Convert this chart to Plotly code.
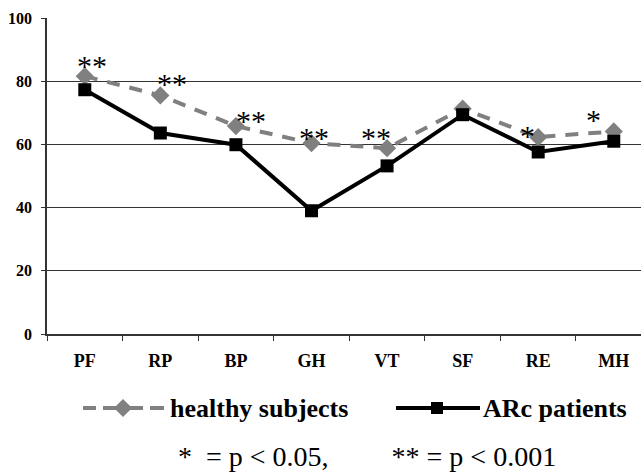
import plotly.graph_objects as go

# ---- data ----
categories = ["PF", "RP", "BP", "GH", "VT", "SF", "RE", "MH"]
healthy = [81.6, 75.5, 65.8, 60.4, 58.8, 71.3, 62.3, 64.1]
arc = [77.3, 63.6, 59.9, 39.0, 53.2, 69.4, 57.6, 61.0]
signif = ["**", "**", "**", "**", "**", "", "*", "*"]
y_ticks = [0, 20, 40, 60, 80, 100]

# ---- figure geometry (pixels) ----
W, H = 641, 472
PL, PR, PT, PB = 47, 641, 18, 334
def px(x):
    return x / W
def py(y):
    return 1 - y / H

GREY = "#808080"
FONT = "Liberation Serif, Times New Roman, serif"

fig = go.Figure()
fig.add_trace(go.Scatter(
    x=categories, y=healthy, mode="lines+markers", name="healthy subjects",
    line=dict(color=GREY, width=4, dash="13px,10px"),
    marker=dict(symbol="diamond", size=14, color=GREY),
    showlegend=False,
))
fig.add_trace(go.Scatter(
    x=categories, y=arc, mode="lines+markers", name="ARc patients",
    line=dict(color="black", width=4),
    marker=dict(symbol="square", size=13, color="black"),
    showlegend=False,
))

# significance stars near the healthy points
star_shift = [(7, 11), (12, 12), (15, 6), (2, 6), (-11, 11), (0, 0), (-11, 2), (-20, 12)]
annotations = []
for c, v, s, (dx, dy) in zip(categories, healthy, signif, star_shift):
    if s:
        annotations.append(dict(
            x=c, y=v, xref="x", yref="y", text=s, showarrow=False,
            xshift=dx, yshift=dy, font=dict(family=FONT, size=30, color="black"),
        ))

# legend (drawn manually to match long line samples)
LY = 408
def hline(x0, x1, color):
    return dict(type="line", xref="paper", yref="paper", x0=px(x0), x1=px(x1), y0=py(LY), y1=py(LY),
                line=dict(color=color, width=4))
shapes = [
    hline(83, 96, GREY), hline(103, 143, GREY), hline(150, 164, GREY),
    dict(type="path", xref="paper", yref="paper",
         path=f"M {px(114)} {py(LY)} L {px(123)} {py(LY-9)} L {px(132)} {py(LY)} L {px(123)} {py(LY+9)} Z",
         fillcolor=GREY, line=dict(width=0)),
    hline(396, 480, "black"),
    dict(type="rect", xref="paper", yref="paper", x0=px(431), x1=px(443), y0=py(LY-6), y1=py(LY+6),
         fillcolor="black", line=dict(width=0)),
]
annotations.append(dict(x=px(168), y=py(LY), xref="paper", yref="paper", xanchor="left", yanchor="middle",
                        text="<b>healthy subjects</b>", showarrow=False,
                        font=dict(family=FONT, size=26, color="black")))
annotations.append(dict(x=px(481), y=py(LY), xref="paper", yref="paper", xanchor="left", yanchor="middle",
                        text="<b>ARc patients</b>", showarrow=False,
                        font=dict(family=FONT, size=26, color="black")))
NB = "\u00a0"
annotations.append(dict(x=px(367), y=py(456), xref="paper", yref="paper", xanchor="center", yanchor="middle",
                        text="*" + NB * 2 + "= p < 0.05," + NB * 9 + "** = p < 0.001", showarrow=False,
                        font=dict(family=FONT, size=28, color="black")))

step = 75.57
right_range = -0.5 + (PR - PL) / step

fig.update_layout(
    width=W, height=H,
    margin=dict(l=0, r=0, t=0, b=0, pad=0),
    paper_bgcolor="white", plot_bgcolor="white",
    showlegend=False,
    xaxis=dict(
        domain=[px(PL), px(PR)], range=[-0.5, right_range], type="category",
        showline=True, linecolor="#333", linewidth=2, automargin=False,
        ticks="outside", ticklen=5, tickcolor="#333", tickwidth=1, tickson="boundaries",
        showgrid=False, ticklabelstandoff=9,
        tickfont=dict(family=FONT, size=18, color="black", weight="bold"),
    ),
    yaxis=dict(
        domain=[py(PB), py(PT)], range=[0, 100], tickvals=y_ticks,
        showline=True, linecolor="#333", linewidth=1.5, automargin=False,
        ticks="outside", ticklen=4, tickcolor="#333",
        showgrid=True, gridcolor="#333", gridwidth=1, zeroline=False,
        ticklabelstandoff=6,
        tickfont=dict(family=FONT, size=16, color="black", weight="bold"),
    ),
    shapes=shapes,
    annotations=annotations,
)

fig.write_html("out.html")
